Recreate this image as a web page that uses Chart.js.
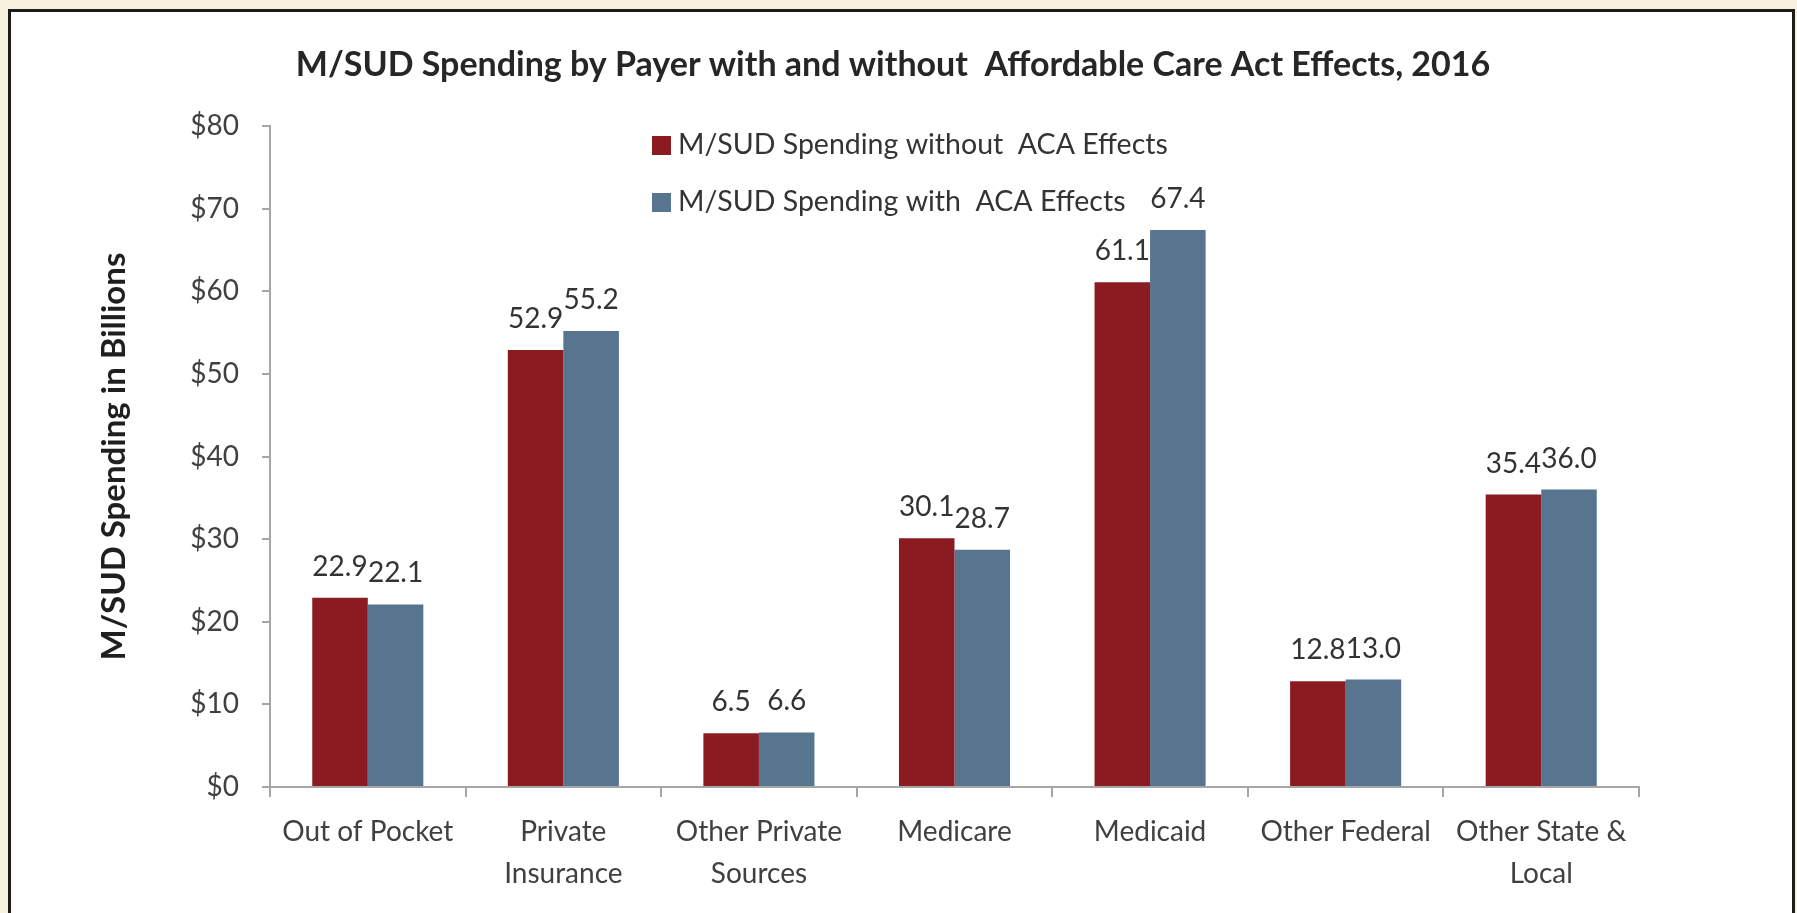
<!DOCTYPE html>
<html>
<head>
<meta charset="utf-8">
<title>M/SUD Spending by Payer</title>
<script src="https://cdn.jsdelivr.net/npm/chart.js@4.4.1/dist/chart.umd.min.js"></script>
<style>
  html, body { margin: 0; padding: 0; }
  body { width: 1797px; height: 913px; overflow: hidden; background: #f8f1dd; position: relative; }
  #panel { position: absolute; left: 8px; top: 9px; width: 1787px; height: 1000px; box-sizing: border-box; border: 3px solid #1c1c1c; background: #fff; }
  #wrap { position: absolute; left: 0; top: 0; width: 1797px; height: 913px; }
</style>
</head>
<body>
<div id="panel"></div>
<div id="wrap"><canvas id="myChart" width="1797" height="913"></canvas></div>
<script>
const chartTitle = 'M/SUD Spending by Payer with and without  Affordable Care Act Effects, 2016';

const payers = [
  ['Out of Pocket'],
  ['Private', 'Insurance'],
  ['Other Private', 'Sources'],
  ['Medicare'],
  ['Medicaid'],
  ['Other Federal'],
  ['Other State &', 'Local'],
];

const withoutACA = [22.9, 52.9, 6.5, 30.1, 61.1, 12.8, 35.4];
const withACA = [22.1, 55.2, 6.6, 28.7, 67.4, 13.0, 36.0];

const seriesNames = [
  'M/SUD Spending without  ACA Effects',
  'M/SUD Spending with  ACA Effects',
];

const yTicks = [0, 10, 20, 30, 40, 50, 60, 70, 80];

const red = '#8a1c21';
const blue = '#58758f';
const axisGray = '#a6a6a6';

Chart.defaults.font.family = 'Lato';
Chart.defaults.color = '#404040';

// heading, centred over the whole panel rather than the plot
const heading = {
  id: 'heading',
  afterDraw(chart) {
    const ctx = chart.ctx;
    ctx.save();
    ctx.font = 'bold 34px Lato';
    ctx.fillStyle = '#262626';
    ctx.textAlign = 'center';
    ctx.textBaseline = 'middle';
    ctx.fillText(chartTitle, 893, 65);
    ctx.restore();
  },
};

// numbers over each bar
const valueLabels = {
  id: 'valueLabels',
  afterDatasetsDraw(chart) {
    const ctx = chart.ctx;
    ctx.save();
    ctx.font = '28px Lato';
    ctx.fillStyle = '#333';
    ctx.textAlign = 'center';
    ctx.textBaseline = 'alphabetic';
    chart.data.datasets.forEach((ds, i) => {
      chart.getDatasetMeta(i).data.forEach((bar, j) => {
        ctx.fillText(ds.data[j].toFixed(1), bar.x, bar.y - 22);
      });
    });
    ctx.restore();
  },
};

// two-row legend sitting inside the plot
const stackedLegend = {
  id: 'stackedLegend',
  afterDraw(chart) {
    const ctx = chart.ctx;
    const area = chart.chartArea;
    const x = area.left + 382;
    ctx.save();
    ctx.font = '28.5px Lato';
    ctx.textBaseline = 'middle';
    ctx.textAlign = 'left';
    chart.data.datasets.forEach((ds, i) => {
      const y = area.top + 19 + i * 57;
      ctx.fillStyle = ds.backgroundColor;
      ctx.fillRect(x, y - 9, 19, 19);
      ctx.fillStyle = '#333';
      ctx.fillText(ds.label, x + 26, y);
    });
    ctx.restore();
  },
};

const chartData = {
  labels: payers,
  datasets: [
    {
      label: seriesNames[0],
      backgroundColor: red,
      data: withoutACA,
      categoryPercentage: 0.568,
      barPercentage: 1,
    },
    {
      label: seriesNames[1],
      backgroundColor: blue,
      data: withACA,
      categoryPercentage: 0.568,
      barPercentage: 1,
    },
  ],
};

const config = {
  type: 'bar',
  data: chartData,
  options: {
    responsive: false,
    animation: false,
    layout: { padding: { left: 0, right: 158, top: 126, bottom: 0 } },
    plugins: {
      legend: { display: false },
      tooltip: { enabled: false },
      title: { display: false },
    },
    scales: {
      x: {
        grid: {
          display: true,
          drawOnChartArea: false,
          drawTicks: true,
          tickLength: 10,
          color: axisGray,
          lineWidth: 2,
        },
        border: { color: axisGray, width: 2 },
        ticks: {
          color: '#404040',
          font: { size: 28, lineHeight: 1.5 },
          padding: 14,
          maxRotation: 0,
          autoSkip: false,
        },
        afterFit(scale) { scale.height = 126; },
      },
      y: {
        min: 0,
        max: 80,
        afterBuildTicks(scale) { scale.ticks = yTicks.map(v => ({ value: v })); },
        grid: {
          display: true,
          drawOnChartArea: false,
          drawTicks: true,
          tickLength: 8,
          color: axisGray,
          lineWidth: 2,
        },
        border: { color: axisGray, width: 2 },
        ticks: {
          color: '#404040',
          font: { size: 28 },
          padding: 23,
          callback: v => '$' + v,
        },
        title: {
          display: true,
          text: 'M/SUD Spending in Billions',
          color: '#1f1f1f',
          font: { size: 33, weight: 'bold', lineHeight: 1.2 },
          padding: { top: 95, bottom: 0 },
        },
        afterFit(scale) { scale.width = 270; },
      },
    },
  },
  plugins: [heading, valueLabels, stackedLegend],
};

const myChart = new Chart(document.querySelector('#myChart'), config);
</script>
</body>
</html>
